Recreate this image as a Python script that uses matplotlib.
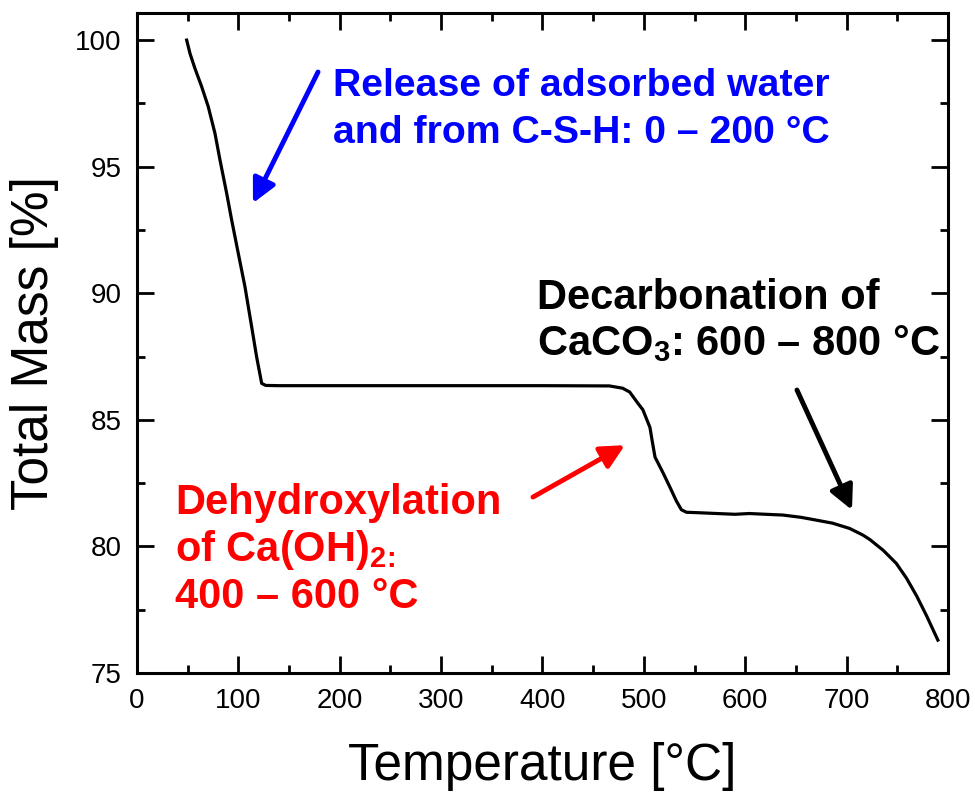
import matplotlib
matplotlib.use("Agg")
import matplotlib.pyplot as plt
from matplotlib.ticker import MultipleLocator

plt.rcParams['font.family'] = ['Liberation Sans', 'DejaVu Sans']
plt.rcParams['mathtext.fontset'] = 'custom'
plt.rcParams['mathtext.rm'] = 'Liberation Sans'
plt.rcParams['mathtext.bf'] = 'Liberation Sans:bold'

# Thermogravimetric curve: temperature (°C) and remaining mass (%)
temperature = [49, 52.3, 57, 63.8, 70.3, 76.9, 81.9, 88.5, 93.4, 99.9, 106.5,
               113.1, 118, 123, 127, 140, 200, 300, 400, 466, 479, 486, 494,
               499, 506, 508.5, 511, 519, 525.6, 532, 537, 542, 555, 572, 590,
               604, 620, 637, 655, 670, 686, 703, 716, 723, 736, 749, 759, 769,
               779, 790]
mass = [100.0, 99.47, 98.9, 98.16, 97.37, 96.32, 95.26, 93.94, 92.89, 91.58,
        90.26, 88.68, 87.49, 86.44, 86.36, 86.35, 86.35, 86.35, 86.35, 86.34,
        86.25, 86.1, 85.66, 85.4, 84.7, 84.1, 83.53, 82.9, 82.35, 81.8, 81.45,
        81.35, 81.33, 81.3, 81.27, 81.3, 81.27, 81.24, 81.15, 81.04, 80.92,
        80.71, 80.45, 80.27, 79.85, 79.33, 78.75, 78.05, 77.25, 76.3]

x_ticks = [0, 100, 200, 300, 400, 500, 600, 700, 800]
y_ticks = [75, 80, 85, 90, 95, 100]

fig = plt.figure(figsize=(9.75, 7.93), dpi=100)
ax = fig.add_axes([0.1405, 0.1513, 0.8318, 0.8323])

ax.plot(temperature, mass, color='black', lw=2.3, solid_joinstyle='round')

ax.set_xlim(0, 800)
ax.set_ylim(75, 101.07)
ax.set_xticks(x_ticks)
ax.set_yticks(y_ticks)
ax.xaxis.set_minor_locator(MultipleLocator(50))
ax.yaxis.set_minor_locator(MultipleLocator(2.5))
ax.tick_params(which='both', direction='in', top=True, right=True,
               width=2, labelsize=20, pad=11)
ax.tick_params(which='major', length=12)
ax.tick_params(which='minor', length=6)
for s in ax.spines.values():
    s.set_linewidth(2.2)

ax.set_xlabel('Temperature [°C]', fontsize=37, labelpad=20)
ax.set_ylabel('Total Mass [%]', fontsize=37, labelpad=12)

arrow_style = dict(arrowstyle='-|>', lw=3.5, mutation_scale=36,
                   shrinkA=0, shrinkB=0)

# Annotations for the three decomposition stages
ax.text(193.3, 98.89, 'Release of adsorbed water\nand from C-S-H: 0 – 200 °C',
        color='#0000ff', fontsize=28.3, fontweight='bold', ha='left', va='top',
        linespacing=1.4)
ax.annotate('', xy=(114.4, 93.56), xytext=(178.6, 98.74),
            arrowprops=dict(color='#0000ff', **arrow_style))

ax.text(394.6, 90.6, 'Decarbonation of\nCaCO$_\\mathbf{3}$: 600 – 800 °C',
        color='black', fontsize=30, fontweight='bold', ha='left', va='top',
        linespacing=1.15)
ax.annotate('', xy=(705.3, 81.44), xytext=(651.0, 86.18),
            arrowprops=dict(color='black', **arrow_style))

ax.text(37.5, 82.5, 'Dehydroxylation\nof Ca(OH)$_{\\mathbf{2}\\!\\mathbf{:}}$\n400 – 600 °C',
        color='#ff0000', fontsize=30, fontweight='bold', ha='left', va='top',
        linespacing=1.15)
ax.annotate('', xy=(481.3, 84.0), xytext=(390.6, 81.95),
            arrowprops=dict(color='#ff0000', **arrow_style))

fig.savefig('out.png', dpi=100)
